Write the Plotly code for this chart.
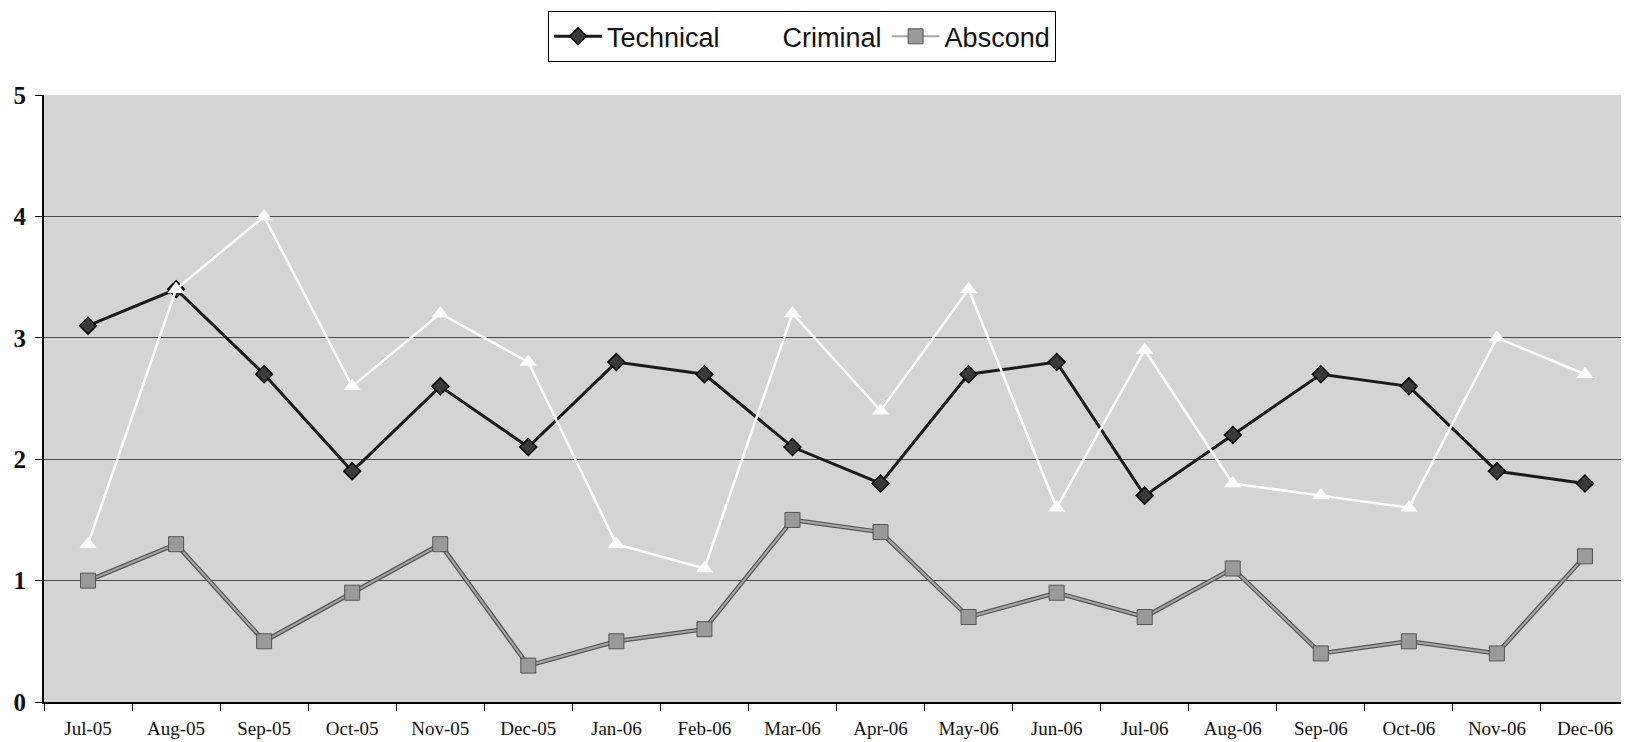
import plotly.graph_objects as go

months = ["Jul-05", "Aug-05", "Sep-05", "Oct-05", "Nov-05", "Dec-05", "Jan-06", "Feb-06", "Mar-06",
          "Apr-06", "May-06", "Jun-06", "Jul-06", "Aug-06", "Sep-06", "Oct-06", "Nov-06", "Dec-06"]
technical = [3.1, 3.4, 2.7, 1.9, 2.6, 2.1, 2.8, 2.7, 2.1, 1.8, 2.7, 2.8, 1.7, 2.2, 2.7, 2.6, 1.9, 1.8]
criminal = [1.3, 3.4, 4.0, 2.6, 3.2, 2.8, 1.3, 1.1, 3.2, 2.4, 3.4, 1.6, 2.9, 1.8, 1.7, 1.6, 3.0, 2.7]
abscond = [1.0, 1.3, 0.5, 0.9, 1.3, 0.3, 0.5, 0.6, 1.5, 1.4, 0.7, 0.9, 0.7, 1.1, 0.4, 0.5, 0.4, 1.2]
y_ticks = [0, 1, 2, 3, 4, 5]

fig = go.Figure()
fig.add_trace(go.Scatter(
    x=months, y=technical, name="Technical", mode="lines+markers",
    line=dict(color="#1a1a1a", width=3),
    marker=dict(symbol="diamond", size=13, color="#3a3a3a", line=dict(color="#000000", width=1.5)),
))
fig.add_trace(go.Scatter(
    x=months, y=criminal, name="Criminal", mode="lines+markers",
    line=dict(color="#ffffff", width=2.5),
    marker=dict(symbol="triangle-up", size=15, color="#ffffff", line=dict(color="#ffffff", width=0)),
))
# darker outline underneath the Abscond line (double-line look)
fig.add_trace(go.Scatter(
    x=months, y=abscond, name="Abscond", mode="lines", showlegend=False, hoverinfo="skip",
    line=dict(color="#555555", width=4.5),
))
fig.add_trace(go.Scatter(
    x=months, y=abscond, name="Abscond", mode="lines+markers",
    line=dict(color="#a8a8a8", width=2),
    marker=dict(symbol="square", size=15, color="#9a9a9a", line=dict(color="#555555", width=1)),
))

fig.update_layout(
    width=1621, height=734,
    margin=dict(l=36, r=0, t=87, b=40),
    paper_bgcolor="#ffffff",
    plot_bgcolor="#d4d4d4",
    showlegend=True,
    legend=dict(
        orientation="h", x=0.318, xanchor="left", y=1.138, yanchor="top",
        bgcolor="#ffffff", bordercolor="#000000", borderwidth=1,
        font=dict(family="Liberation Sans, Arial, sans-serif", size=27, color="#111111"),
        itemwidth=48,
    ),
    xaxis=dict(
        type="category", range=[-0.5, 17.5],
        showline=True, linecolor="#000000", linewidth=2,
        ticks="outside", tickson="boundaries", ticklen=7, tickcolor="#000000", tickwidth=1,
        showgrid=False,
        ticklabelstandoff=8,
        tickfont=dict(family="Liberation Serif, Times New Roman, serif", size=19, color="#111111"),
    ),
    yaxis=dict(
        range=[0, 5], tickvals=y_ticks,
        showline=True, linecolor="#000000", linewidth=2,
        ticks="outside", ticklen=7, tickcolor="#000000",
        showgrid=True, gridcolor="#4a4a4a", gridwidth=1,
        zeroline=False,
        ticklabelstandoff=4,
        tickfont=dict(family="Liberation Serif, Times New Roman, serif", size=25, color="#111111", weight="bold"),
    ),
)

fig.write_html("out.html")
